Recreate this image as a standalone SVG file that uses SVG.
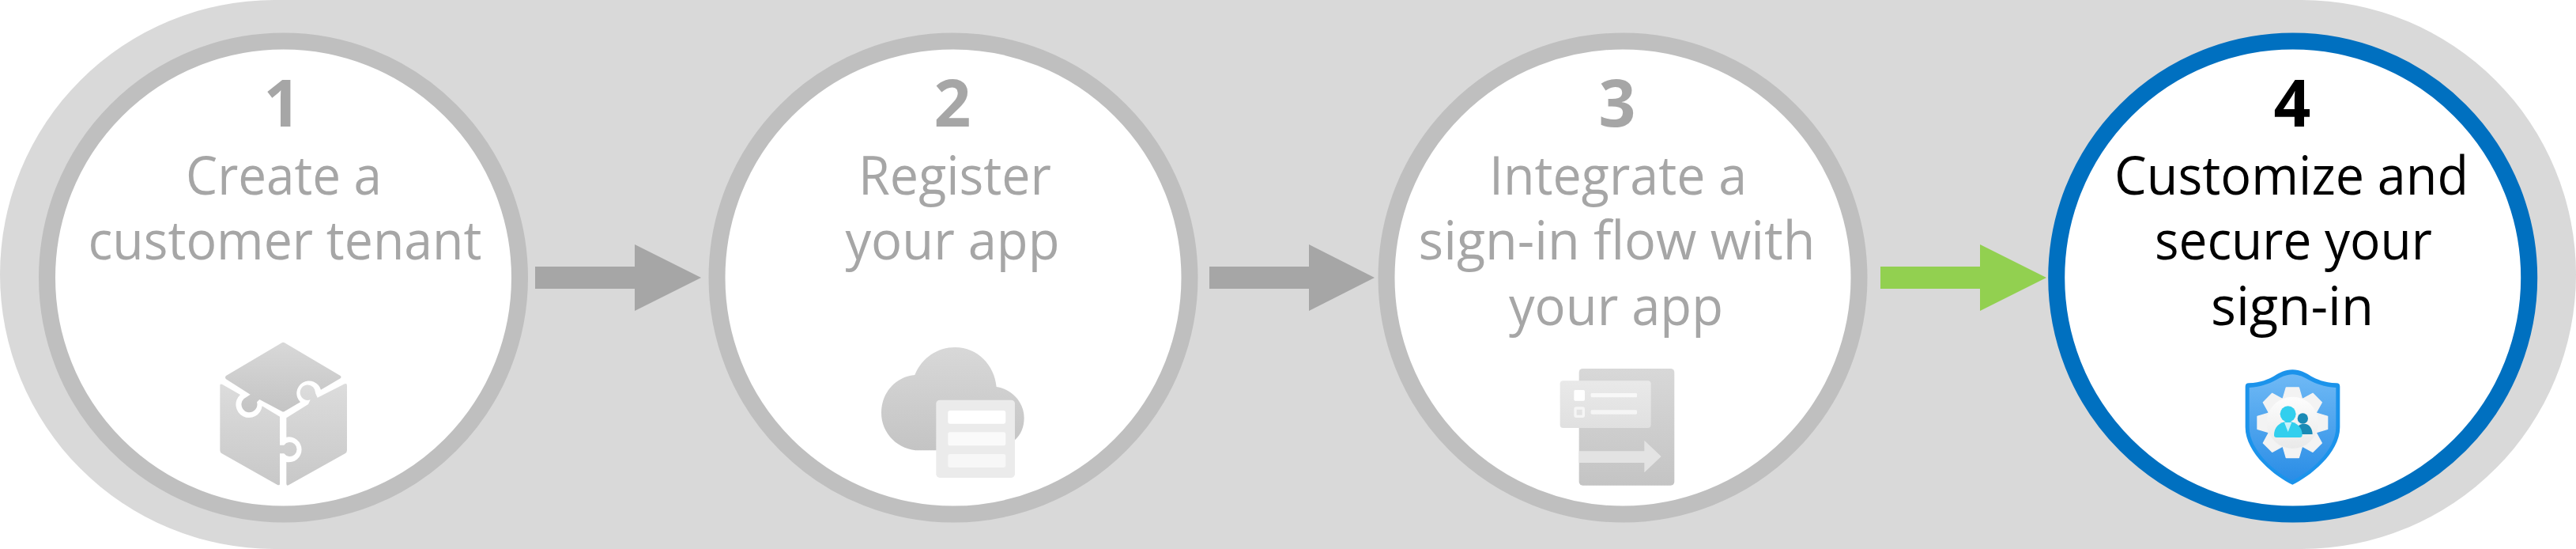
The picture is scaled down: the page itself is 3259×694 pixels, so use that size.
<svg xmlns="http://www.w3.org/2000/svg" xmlns:xlink="http://www.w3.org/1999/xlink" width="3259" height="694" viewBox="0 0 3259 694">
<style>
.t{font-family:"Open Sans","Noto Sans",sans-serif;font-size:67px;text-anchor:middle;fill:#a6a6a6}
.n{font-family:"Open Sans","Noto Sans",sans-serif;font-size:82px;font-weight:700;text-anchor:middle;fill:#a6a6a6}
.c{fill:#fff;stroke:#bfbfbf;stroke-width:21}
.b{fill:#000}
</style>
<defs>
<linearGradient id="g" x1="0" y1="0" x2="0" y2="1"><stop offset="0" stop-color="#d8d8d8"/><stop offset="1" stop-color="#c4c4c4"/></linearGradient>
<linearGradient id="g3" x1="0" y1="0" x2="0" y2="1"><stop offset="0" stop-color="#dcdcdc"/><stop offset="1" stop-color="#c8c8c8"/></linearGradient>
<linearGradient id="g2" x1="0" y1="0" x2="0" y2="1"><stop offset="0" stop-color="#e9e9e9"/><stop offset="1" stop-color="#e0e0e0"/></linearGradient>
<linearGradient id="s" x1="0" y1="0" x2="0" y2="1"><stop offset="0" stop-color="#6fb9f5"/><stop offset="1" stop-color="#2a8de6"/></linearGradient>
<linearGradient id="w" x1="0" y1="0" x2="0" y2="1"><stop offset="0" stop-color="#fdfdfd"/><stop offset="1" stop-color="#e9e9e9"/></linearGradient>
<path id="tooth" d="M-24-133H24L38-85H-38Z" fill="#f3f3f3" stroke="#f3f3f3" stroke-width="4" stroke-linejoin="round"/>
</defs>
<rect width="3259" height="694" rx="347" fill="#d9d9d9"/>
<g id="connectors">
<path d="M677 337H803V309L887 351L803 393V365H677Z" fill="#a6a6a6"/>
<path d="M1530 337H1656V309L1739 351L1656 393V365H1530Z" fill="#a6a6a6"/>
<path d="M2379 337H2505V309L2589 351L2505 393V365H2379Z" fill="#92d050"/>
</g>
<g id="node1"><circle class="c" cx="358.5" cy="351" r="299"/><text class="n" x="357" y="160">1</text><text class="t" x="359" y="246" textLength="248" lengthAdjust="spacingAndGlyphs">Create a</text><text class="t" x="360.5" y="328" textLength="498" lengthAdjust="spacingAndGlyphs">customer tenant</text>
<g transform="translate(200 400) scale(.3333)">
<path d="M470 100Q475 97 480 100L692 225Q697 230 692 235L618 278A47 47 0 1 0 540 325L480 360Q475 363 470 360L385 315L375 325A30 30 0 1 1 326 312L350 296L258 238Q252 230 258 225Z" fill="url(#g)"/>
<path d="M717 262V508Q717 516 710 520L495 640Q487 644 487 634V552A48 48 0 1 0 487 458V385L570 333L578 316A29 29 0 1 1 597 290L605 308L708 256Q717 252 717 262Z" fill="url(#g3)"/>
<path d="M235 262Q235 253 244 258L312 297A50 50 0 1 0 395 340L462 380V488H478A27 27 0 1 1 478 520H462V635Q462 643 452 638L242 520Q235 516 235 508Z" fill="url(#g3)"/>
</g></g>
<g id="node2"><circle class="c" cx="1206" cy="351" r="299"/><text class="n" x="1205" y="160">2</text><text class="t" x="1208" y="246" textLength="244" lengthAdjust="spacingAndGlyphs">Register</text><text class="t" x="1205" y="328" textLength="271" lengthAdjust="spacingAndGlyphs">your app</text>
<g transform="translate(1050 400) scale(.3333)">
<path d="M322 222C350 155 410 117 475 117C560 117 625 185 632 267C690 275 737 325 737 385C737 420 725 450 700 470L640 508H340C260 508 195 445 195 365C195 290 250 228 322 222Z" fill="url(#g)"/>
<rect x="403" y="317" width="299" height="295" rx="14" fill="#ebebeb"/>
<rect x="448" y="357" width="219" height="50" rx="8" fill="#fff"/><rect x="448" y="439" width="219" height="51" rx="8" fill="#fafafa"/><rect x="448" y="522" width="219" height="51" rx="8" fill="#f7f7f7"/>
</g></g>
<g id="node3"><circle class="c" cx="2053" cy="351" r="299"/><text class="n" x="2046" y="160">3</text><text class="t" x="2047" y="246" textLength="326" lengthAdjust="spacingAndGlyphs">Integrate a</text><text class="t" x="2045.5" y="328" textLength="502" lengthAdjust="spacingAndGlyphs">sign-in flow with</text><text class="t" x="2044.5" y="410.5" textLength="271" lengthAdjust="spacingAndGlyphs">your app</text>
<g transform="translate(1900 420) scale(.3333)">
<rect x="293" y="138" width="362" height="443" rx="14" fill="url(#g)"/>
<rect x="221" y="184" width="345" height="179" rx="12" fill="url(#g2)"/>
<rect x="274" y="219" width="41" height="41" rx="5" fill="#fff"/><rect x="279" y="288" width="31" height="31" rx="3" fill="none" stroke="#f5f5f5" stroke-width="10"/>
<rect x="338" y="231" width="175" height="16" rx="4" fill="#f8f8f8"/><rect x="338" y="295" width="175" height="16" rx="4" fill="#f5f5f5"/>
<path d="M293 451H541V410L605 471L541 532V495H293Z" fill="#e3e3e3"/>
</g></g>
<g id="node4"><circle cx="2900.7" cy="351" r="299" fill="#fff" stroke="#0070c0" stroke-width="21"/><text class="n" x="2900" y="160" style="fill:#000">4</text><text class="t" x="2899" y="246" textLength="448" lengthAdjust="spacingAndGlyphs" style="fill:#000">Customize and</text><text class="t" x="2901.5" y="328" textLength="351" lengthAdjust="spacingAndGlyphs" style="fill:#000">secure your</text><text class="t" x="2900" y="410.5" textLength="206" lengthAdjust="spacingAndGlyphs" style="fill:#000">sign-in</text>
<g transform="translate(2780 440) scale(.3333)">
<path d="M361 82C300 82 290 130 195 133Q182 133 182 146V300C182 400 300 490 361 518C422 490 541 400 541 300V146Q541 133 528 133C432 130 422 82 361 82Z" fill="#1b93eb"/>
<path d="M361 100C310 100 290 145 197 150V300C197 390 300 475 361 502C422 475 526 390 526 300V150C432 145 412 100 361 100Z" fill="url(#s)"/>
<g transform="translate(361 283)"><circle r="100" fill="url(#w)"/><use xlink:href="#tooth"/><use xlink:href="#tooth" transform="rotate(45)"/><use xlink:href="#tooth" transform="rotate(90)"/><use xlink:href="#tooth" transform="rotate(135)"/><use xlink:href="#tooth" transform="rotate(180)"/><use xlink:href="#tooth" transform="rotate(225)"/><use xlink:href="#tooth" transform="rotate(270)"/><use xlink:href="#tooth" transform="rotate(315)"/><circle r="98" fill="url(#w)"/></g>
<circle cx="400" cy="267" r="20" fill="#1a8ab5"/><path d="M375 327C375 300 385 287 405 287C425 287 437 305 437 327Z" fill="#1a8ab5"/>
<path d="M291 330C291 300 310 280 344 278C378 280 398 300 398 330Q398 339 388 339H300Q291 339 291 330Z" fill="#32cfee"/>
<circle cx="344" cy="250" r="30" fill="#32cfee"/><path d="M330 282H358L344 318Z" fill="#c9f2fa"/>
</g></g>
</svg>
